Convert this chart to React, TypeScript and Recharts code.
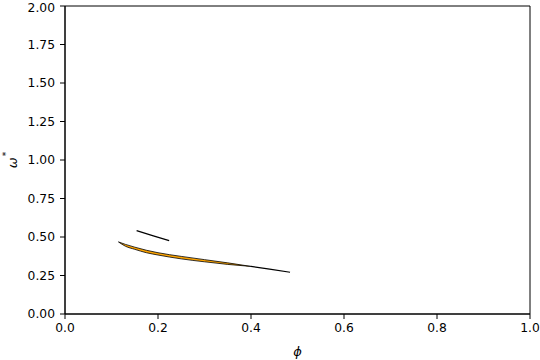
import { ComposedChart, Area, Line, XAxis, YAxis, ReferenceArea } from 'recharts';

// orange band between two solution branches
const phiBand = [0.115, 0.13, 0.15, 0.175, 0.2, 0.25, 0.3, 0.35, 0.4];
const omegaUpper = [0.468, 0.452, 0.434, 0.414, 0.398, 0.374, 0.353, 0.332, 0.309];
const omegaLower = [0.468, 0.44, 0.42, 0.398, 0.383, 0.358, 0.339, 0.322, 0.309];

// single branch continuing past the band
const phiTail = [0.4, 0.44, 0.484];
const omegaTail = [0.309, 0.292, 0.271];

// short separate branch
const phiShort = [0.154, 0.19, 0.224];
const omegaShort = [0.541, 0.507, 0.476];

const xTicks = [0, 0.2, 0.4, 0.6, 0.8, 1];
const yTicks = [0, 0.25, 0.5, 0.75, 1, 1.25, 1.5, 1.75, 2];

const bandData = phiBand.map((phi, i) => ({ phi, omega: [omegaLower[i], omegaUpper[i]] }));
const tailData = phiTail.map((phi, i) => ({ phi, omega: omegaTail[i] }));
const shortData = phiShort.map((phi, i) => ({ phi, omega: omegaShort[i] }));

const font = '"DejaVu Sans", sans-serif';
const tickStyle = { fill: '#000', fontSize: 12.3, fontFamily: font };

const YLabel = (props: any) => {
  const vb = props.viewBox;
  const cx = 12;
  const cy = vb.y + vb.height / 2;
  return (
    <text
      x={cx}
      y={cy}
      transform={`rotate(-90, ${cx}, ${cy})`}
      textAnchor="middle"
      dominantBaseline="central"
      fontFamily={font}
      fontStyle="italic"
      fontSize={13}
      fill="#000"
    >
      ω<tspan dx={1} dy={-6} fontSize={9} fontStyle="normal">*</tspan>
    </text>
  );
};

const XLabel = (props: any) => {
  const vb = props.viewBox;
  return (
    <text
      x={vb.x + vb.width / 2}
      y={351}
      textAnchor="middle"
      dominantBaseline="central"
      fontFamily={font}
      fontStyle="italic"
      fontSize={13}
      fill="#000"
    >
      ϕ
    </text>
  );
};

const App = () => {
  return (
    <div style={{ position: 'absolute', left: 0, top: 0, width: 540, height: 360, background: '#fff' }}>
      <ComposedChart width={540} height={360} margin={{ top: 6, right: 10, bottom: 0, left: 10 }}>
        <XAxis
          dataKey="phi"
          type="number"
          domain={[0, 1]}
          ticks={xTicks}
          tickFormatter={(v: number) => v.toFixed(1)}
          height={46}
          tick={tickStyle}
          tickSize={5}
          tickMargin={4}
          stroke="#000"
          tickLine={{ stroke: '#000' }}
          allowDataOverflow
          label={<XLabel />}
        />
        <YAxis
          type="number"
          domain={[0, 2]}
          ticks={yTicks}
          tickFormatter={(v: number) => v.toFixed(2)}
          width={55}
          tick={tickStyle}
          tickSize={5}
          tickMargin={5}
          stroke="#000"
          tickLine={{ stroke: '#000' }}
          allowDataOverflow
          label={<YLabel />}
        />
        <ReferenceArea x1={0} x2={1} y1={0} y2={2} fill="none" stroke="#000" strokeWidth={1} />
        <Area
          data={bandData}
          dataKey="omega"
          type="monotone"
          fill="#ffa500"
          fillOpacity={1}
          stroke="#000"
          strokeWidth={0.8}
          isAnimationActive={false}
          dot={false}
          activeDot={false}
        />
        <Line
          data={tailData}
          dataKey="omega"
          type="monotone"
          stroke="#000"
          strokeWidth={1.2}
          dot={false}
          activeDot={false}
          isAnimationActive={false}
        />
        <Line
          data={shortData}
          dataKey="omega"
          type="monotone"
          stroke="#000"
          strokeWidth={1.2}
          dot={false}
          activeDot={false}
          isAnimationActive={false}
        />
      </ComposedChart>
    </div>
  );
};

export default App;
